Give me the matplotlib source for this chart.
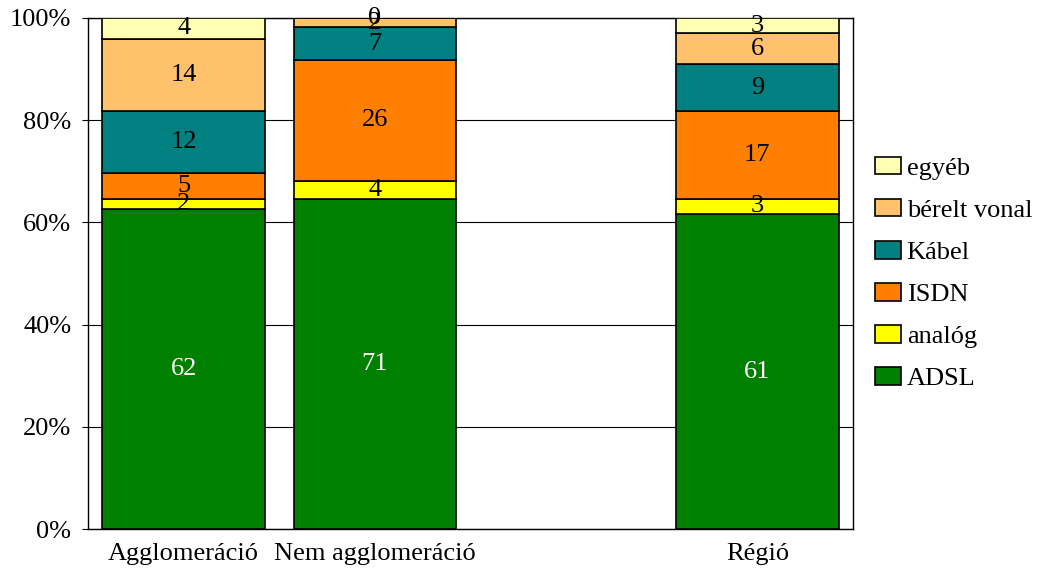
import numpy as np
import matplotlib
matplotlib.use('Agg')
import matplotlib.pyplot as plt
from matplotlib.ticker import PercentFormatter

categories = ['Agglomeráció', 'Nem agglomeráció', 'Régió']
positions = [0, 1, 3]
series = ['ADSL', 'analóg', 'ISDN', 'Kábel', 'bérelt vonal', 'egyéb']
adsl = [62, 71, 61]
analog = [2, 4, 3]
isdn = [5, 26, 17]
kabel = [12, 7, 9]
berelt = [14, 2, 6]
egyeb = [4, 0, 3]
colors = ['#008000', '#FFFF00', '#FF8000', '#008080', '#FFC16B', '#FFFFB3']
label_colors = ['white', 'black', 'black', 'black', 'black', 'black']

plt.rcParams['font.family'] = ['Liberation Serif', 'DejaVu Serif']
FS = 19

data = np.array([adsl, analog, isdn, kabel, berelt, egyeb], dtype=float)
shares = data / data.sum(axis=0) * 100

fig = plt.figure(figsize=(10.39, 5.71), dpi=100)
ax = fig.add_axes([88 / 1039, 42 / 571, 765 / 1039, 511 / 571])

bottom = np.zeros(len(categories))
for i, name in enumerate(series):
    bars = ax.bar(positions, shares[i], bottom=bottom, width=0.85, color=colors[i],
                  edgecolor='black', linewidth=1.2, label=name, zorder=3)
    for x, b, h, v in zip(positions, bottom, shares[i], data[i]):
        ax.text(x, b + h / 2, '%d' % v, ha='center', va='center', fontsize=FS,
                color=label_colors[i], zorder=4)
    bottom += shares[i]

ax.set_xlim(-0.5, 3.5)
ax.set_ylim(0, 100)
ax.set_yticks(range(0, 101, 20))
ax.yaxis.set_major_formatter(PercentFormatter(decimals=0))
ax.set_xticks(positions)
ax.set_xticklabels(categories)
ax.tick_params(axis='both', labelsize=FS)
ax.tick_params(axis='x', length=0, pad=10)
ax.tick_params(axis='y', length=4, direction='out', pad=8)
ax.grid(True, axis='y', color='black', linewidth=0.8, zorder=0)
for s in ax.spines.values():
    s.set_linewidth(1.0)
    s.set_color('black')

handles, labels = ax.get_legend_handles_labels()
ax.legend(handles[::-1], labels[::-1], loc='center left', bbox_to_anchor=(1.015, 0.5),
          frameon=False, fontsize=FS, handlelength=1.0, handleheight=0.65,
          handletextpad=0.2, labelspacing=0.72, borderaxespad=0)

fig.savefig('out.png', dpi=100)
